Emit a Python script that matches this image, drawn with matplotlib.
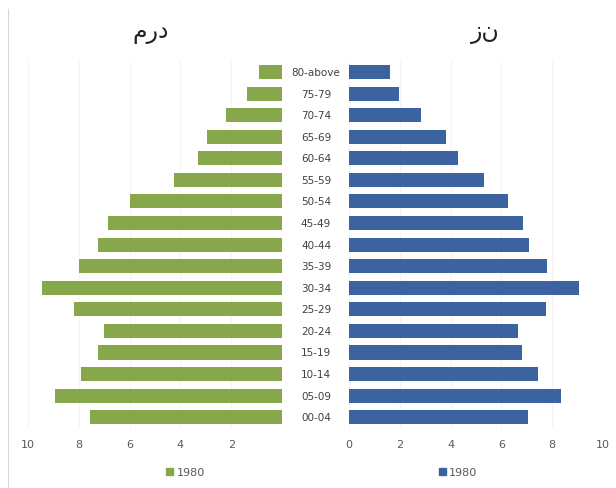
import matplotlib
matplotlib.use("Agg")
import matplotlib.pyplot as plt
from matplotlib.patches import Rectangle
from matplotlib.lines import Line2D

categories = ["00-04", "05-09", "10-14", "15-19", "20-24", "25-29", "30-34", "35-39",
              "40-44", "45-49", "50-54", "55-59", "60-64", "65-69", "70-74", "75-79", "80-above"]
male_1980 = [7.55, 8.95, 7.9, 7.25, 7.0, 8.2, 9.45, 8.0, 7.25, 6.85, 6.0, 4.25, 3.3, 2.95, 2.2, 1.4, 0.9]
female_1980 = [7.05, 8.35, 7.45, 6.8, 6.65, 7.75, 9.05, 7.8, 7.1, 6.85, 6.25, 5.3, 4.3, 3.8, 2.85, 1.95, 1.6]
left_ticks = [10, 8, 6, 4, 2]
right_ticks = [0, 2, 4, 6, 8, 10]
title_male = "مرد"
title_female = "زن"
legend_label = "1980"

green = "#86a74a"
blue = "#3a63a0"
tick_color = "#595959"

fig = plt.figure(figsize=(6.16, 4.89), dpi=100)
fig.patch.set_facecolor("white")

bottom, height = 0.1227, 0.750
axL = fig.add_axes([0.0455, bottom, 0.4125, height])
axR = fig.add_axes([0.5666, bottom, 0.4125, height])

y = list(range(len(categories)))
axL.barh(y, male_1980, height=0.65, color=green, zorder=3)
axR.barh(y, female_1980, height=0.65, color=blue, zorder=3)

axL.set_xlim(10, 0)
axR.set_xlim(0, 10)
for ax in (axL, axR):
    ax.set_ylim(-0.5, len(categories) - 0.5)
    ax.set_yticks([])
    for s in ax.spines.values():
        s.set_visible(False)
    ax.tick_params(axis="x", length=0, colors=tick_color, labelsize=8, pad=8)
    ax.grid(axis="x", color="#f4f4f4", linewidth=0.8, zorder=0)
    ax.set_facecolor("none")
axL.set_xticks(left_ticks)
axR.set_xticks(right_ticks)

for i, c in enumerate(categories):
    fig.text(0.513, bottom + height * (i + 0.5) / len(categories), c,
             ha="center", va="center", fontsize=7.5, color="#404040")

fig.text(0.244, 0.935, title_male, ha="center", va="center", fontsize=17,
         family="DejaVu Sans", color="#222222")
fig.text(0.788, 0.935, title_female, ha="center", va="center", fontsize=17,
         family="DejaVu Sans", color="#222222")

axL.legend([Rectangle((0, 0), 1, 1, color=green)], [legend_label], loc="upper center",
           bbox_to_anchor=(0.62, -0.08), frameon=False, fontsize=8, handlelength=0.6,
           handleheight=0.6, handletextpad=0.3, labelcolor=tick_color)
axR.legend([Rectangle((0, 0), 1, 1, color=blue)], [legend_label], loc="upper center",
           bbox_to_anchor=(0.43, -0.08), frameon=False, fontsize=8, handlelength=0.6,
           handleheight=0.6, handletextpad=0.3, labelcolor=tick_color)

fig.add_artist(Line2D([0.013, 0.013], [0.0, 0.98], color="#d9d9d9", linewidth=0.8))

fig.savefig("out.png", dpi=100)
